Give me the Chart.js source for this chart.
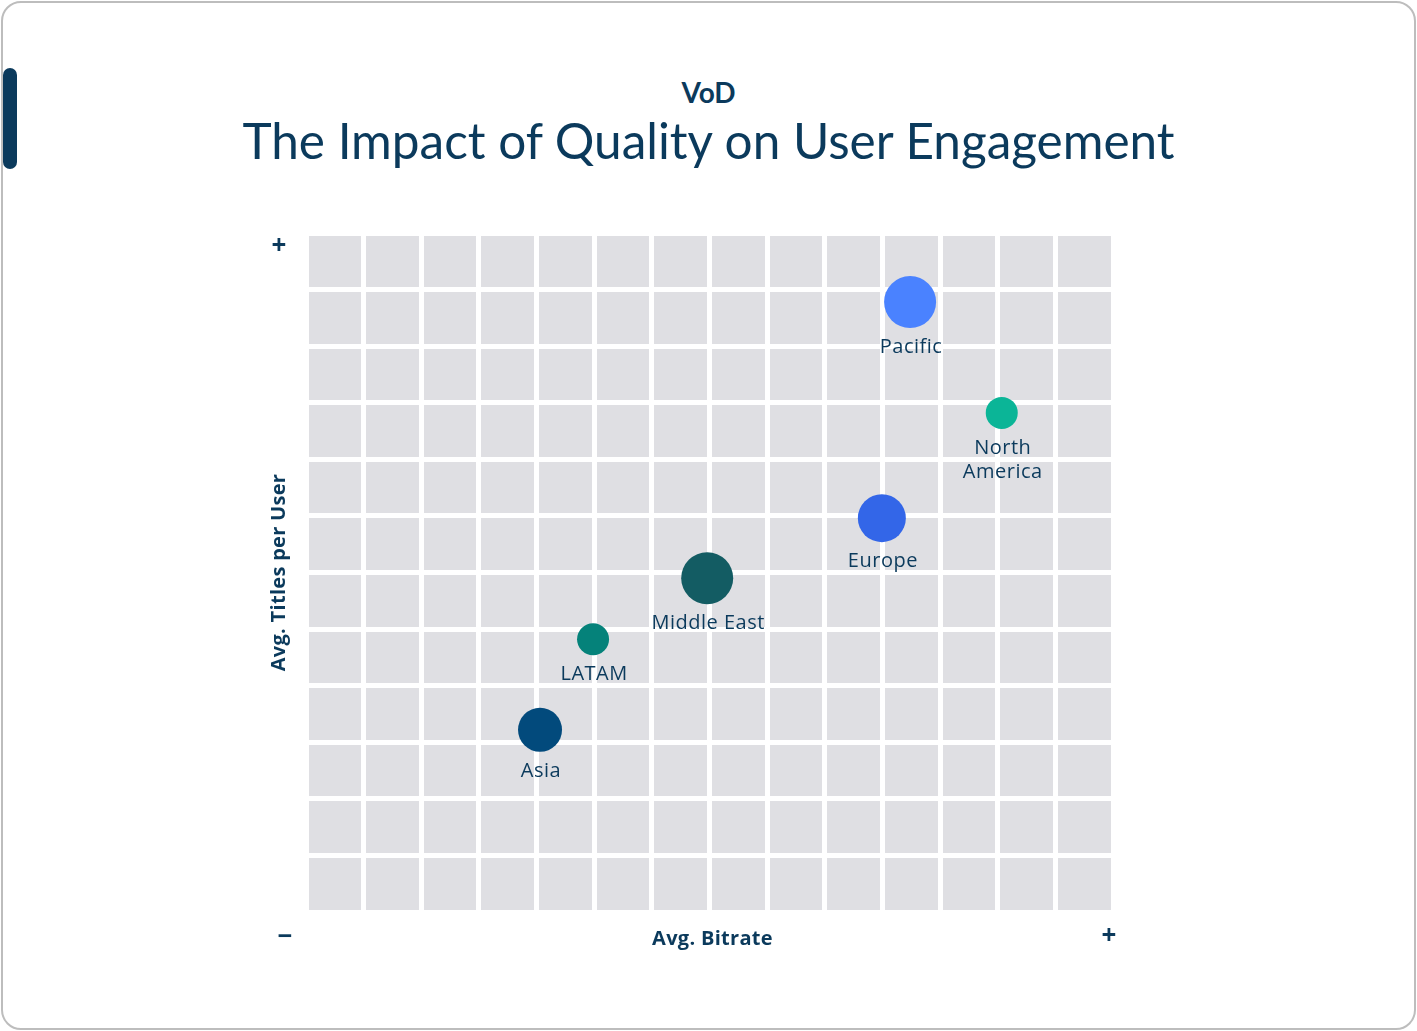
<!DOCTYPE html>
<html>
<head>
<meta charset="utf-8">
<script src="https://cdn.jsdelivr.net/npm/chart.js@4/dist/chart.umd.min.js"></script>
<style>
  html, body { margin: 0; padding: 0; background: #ffffff; }
  body { width: 1417px; height: 1031px; position: relative; overflow: hidden; }
  .card { position: absolute; left: 1px; top: 1px; width: 1411px; height: 1025px; border: 2px solid #bdbdbd; border-radius: 20px; box-sizing: content-box; }
  .accent { position: absolute; left: 3px; top: 68px; width: 14px; height: 101px; border-radius: 7px; background: #0b3a5c; }
  .kicker { position: absolute; left: 0; width: 1417px; top: 78px; text-align: center; font: 700 28px/28px Lato, sans-serif; color: #0b3a5c; }
  .title { position: absolute; left: 0; width: 1417px; top: 116px; text-align: center; font: 400 49.5px/49.5px Lato, sans-serif; color: #0b3a5c; }
  #chart { position: absolute; left: 0; top: 0; }
</style>
</head>
<body>
<div class="card"></div>
<div class="accent"></div>
<div class="kicker">VoD</div>
<div class="title">The Impact of Quality on User Engagement</div>
<canvas id="chart" width="1417" height="1031"></canvas>
<script>
// ---- data ----
const regions = ['Pacific', 'North America', 'Europe', 'Middle East', 'LATAM', 'Asia'];
const labelLines = [['Pacific'], ['North', 'America'], ['Europe'], ['Middle East'], ['LATAM'], ['Asia']];
const bitrate = [10.48, 12.07, 9.99, 6.96, 4.98, 4.06];
const titlesPerUser = [10.78, 8.82, 6.96, 5.90, 4.82, 3.22];
const bubbleSize = [26, 16, 24, 26, 16, 22];
const bubbleColors = ['#4a82ff', '#0bb597', '#3366e8', '#135c63', '#05827a', '#024a7c'];
const xAxisTitle = 'Avg. Bitrate';
const yAxisTitle = 'Avg. Titles per User';
const xRange = [0, 14];
const yRange = [0, 12];

const TEXT = '#0b3a5c';
const CELL = '#dfdfe3';

const points = regions.map((r, i) => ({ x: bitrate[i], y: titlesPerUser[i], r: bubbleSize[i] }));

const bgPlugin = {
  id: 'cellBg',
  beforeDraw(chart) {
    const { ctx, chartArea: a } = chart;
    ctx.save();
    ctx.fillStyle = CELL;
    ctx.fillRect(a.left, a.top, a.right - a.left, a.bottom - a.top);
    ctx.restore();
  }
};

const labelPlugin = {
  id: 'bubbleLabels',
  afterDatasetsDraw(chart) {
    const { ctx } = chart;
    const meta = chart.getDatasetMeta(0);
    ctx.save();
    ctx.fillStyle = TEXT;
    ctx.font = '400 20px "Open Sans", sans-serif';
    if ('letterSpacing' in ctx) ctx.letterSpacing = '0.5px';
    ctx.textAlign = 'center';
    ctx.textBaseline = 'middle';
    meta.data.forEach((el, i) => {
      const r = el.options.radius;
      labelLines[i].forEach((line, j) => {
        ctx.fillText(line, el.x + 1, el.y + r + 19 + j * 24);
      });
    });
    ctx.restore();
  }
};

const axisTextPlugin = {
  id: 'axisText',
  afterDraw(chart) {
    const { ctx, chartArea: a } = chart;
    ctx.save();
    ctx.fillStyle = TEXT;
    ctx.textAlign = 'center';
    ctx.textBaseline = 'middle';
    ctx.font = '700 20px "Open Sans", sans-serif';
    if ('letterSpacing' in ctx) ctx.letterSpacing = '0.3px';
    ctx.fillText(xAxisTitle, (a.left + a.right) / 2 + 3, a.bottom + 27);
    ctx.save();
    ctx.translate(a.left - 27, (a.top + a.bottom) / 2);
    ctx.rotate(-Math.PI / 2);
    ctx.fillText(yAxisTitle, 0, 0);
    ctx.restore();
    if ('letterSpacing' in ctx) ctx.letterSpacing = '0px';
    ctx.font = '700 26px "Open Sans", sans-serif';
    ctx.fillText('+', a.left - 27, a.top + 14);
    ctx.fillText('+', a.right - 4, a.bottom + 25);
    ctx.fillText('\u2212', a.left - 21, a.bottom + 26);
    ctx.restore();
  }
};

new Chart(document.getElementById('chart'), {
  type: 'bubble',
  data: {
    datasets: [{
      label: 'Regions',
      data: points,
      backgroundColor: bubbleColors,
      borderWidth: 0,
      hoverRadius: 0
    }]
  },
  options: {
    responsive: false,
    animation: false,
    events: [],
    layout: { padding: { left: 306, right: 304, top: 233, bottom: 119 } },
    plugins: { legend: { display: false }, tooltip: { enabled: false } },
    scales: {
      x: {
        type: 'linear', min: xRange[0], max: xRange[1],
        ticks: { display: false, stepSize: 1 },
        grid: { color: '#ffffff', lineWidth: 5, drawTicks: false },
        border: { display: false },
        title: { display: false }
      },
      y: {
        type: 'linear', min: yRange[0], max: yRange[1],
        ticks: { display: false, stepSize: 1 },
        grid: { color: '#ffffff', lineWidth: 5, drawTicks: false },
        border: { display: false },
        title: { display: false }
      }
    }
  },
  plugins: [bgPlugin, labelPlugin, axisTextPlugin]
});
</script>
</body>
</html>
